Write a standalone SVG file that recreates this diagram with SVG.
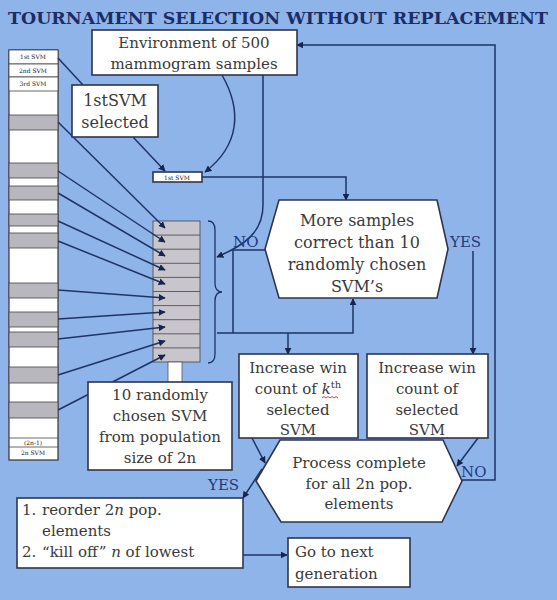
<svg xmlns="http://www.w3.org/2000/svg" width="557" height="600" viewBox="0 0 557 600">
<style>
.t{font-family:"DejaVu Serif","Liberation Serif",serif;font-size:15px;fill:#3a3a3a;text-anchor:middle}
.l{text-anchor:start}
.tiny{font-family:"DejaVu Serif",serif;font-size:6px;fill:#222;text-anchor:middle}
.lab{font-family:"DejaVu Serif","Liberation Serif",serif;font-size:15px;fill:#1f3a7a}
.box{fill:#fff;stroke:#2c3550;stroke-width:1.6}
.ln{fill:none;stroke:#1f3366;stroke-width:1.5}
.g{fill:#b9b7be;stroke:#444;stroke-width:0.8}
.bg{fill:#c9c5cc;stroke:#444;stroke-width:0.8}
</style>
<defs>
<marker id="a" viewBox="0 0 10 10" refX="9" refY="5" markerWidth="7" markerHeight="7" markerUnits="userSpaceOnUse" orient="auto">
<path d="M0,0 L10,5 L0,10 z" fill="#15254f"/>
</marker>
</defs>
<rect x="0" y="0" width="557" height="600" fill="#8fb4e9"/>
<text x="278" y="24" textLength="540" lengthAdjust="spacingAndGlyphs" style="font-family:'DejaVu Serif','Liberation Serif',serif;font-weight:bold;font-size:17px;fill:#1b2d66;text-anchor:middle">TOURNAMENT SELECTION WITHOUT REPLACEMENT</text>

<g id="population">
<rect x="9" y="50" width="49" height="410" fill="#fff" stroke="#333" stroke-width="1.2"/>
<rect x="9" y="50" width="49" height="14" fill="#fff" stroke="#444" stroke-width="0.8"/>
<rect x="9" y="64" width="49" height="13" fill="#fff" stroke="#444" stroke-width="0.8"/>
<rect x="9" y="77" width="49" height="14" fill="#fff" stroke="#444" stroke-width="0.8"/>
<text class="tiny" x="33" y="59">1st SVM</text>
<text class="tiny" x="33" y="73">2nd SVM</text>
<text class="tiny" x="33" y="86">3rd SVM</text>
<rect class="g" x="9" y="115" width="49" height="15"/>
<rect class="g" x="9" y="163" width="49" height="15"/>
<rect class="g" x="9" y="186" width="49" height="14"/>
<rect class="g" x="9" y="214" width="49" height="12"/>
<rect class="g" x="9" y="233" width="49" height="15"/>
<rect class="g" x="9" y="283" width="49" height="15"/>
<rect class="g" x="9" y="312" width="49" height="15"/>
<rect class="g" x="9" y="332" width="49" height="15"/>
<rect class="g" x="9" y="367" width="49" height="16"/>
<rect class="g" x="9" y="402" width="49" height="16"/>
<line x1="9" y1="438" x2="58" y2="438" stroke="#444" stroke-width="0.8"/>
<line x1="9" y1="447" x2="58" y2="447" stroke="#444" stroke-width="0.8"/>
<text class="tiny" x="33" y="445">(2n-1)</text>
<text class="tiny" x="33" y="455">2n SVM</text>
</g>

<g id="selected-block">
<rect class="bg" x="153" y="221" width="47" height="141" stroke-width="1.2"/>
<path d="M153,235.1H200M153,249.2H200M153,263.3H200M153,277.4H200M153,291.5H200M153,305.6H200M153,319.7H200M153,333.8H200M153,347.9H200" stroke="#444" stroke-width="0.8"/>
<path d="M208,221 Q215,221 215,230 L215,283 Q215,292 222,292 Q215,292 215,301 L215,354 Q215,363 208,363" fill="none" stroke="#1f3366" stroke-width="1.3"/>
<rect x="168" y="362" width="14" height="21" fill="#fff" stroke="#555" stroke-width="0.8"/>
</g>

<g id="connectors">
<path class="ln" d="M58,58 L83,85"/>
<path class="ln" d="M133,137 L165,171" marker-end="url(#a)"/>
<path class="ln" d="M222,75 C242,110 240,145 205,172" marker-end="url(#a)"/>
<path class="ln" d="M263,75 L263,205 C263,232 245,245 217,257" marker-end="url(#a)"/>
<path class="ln" d="M202,177 L346,177 L346,200" marker-end="url(#a)"/>
<path class="ln" d="M265,250 L233,250 L233,333"/>
<path class="ln" d="M217,333 L353,333 L353,299" marker-end="url(#a)"/>
<path class="ln" d="M288,333 L288,354" marker-end="url(#a)"/>
<path class="ln" d="M473,251 L473,354" marker-end="url(#a)"/>
<path class="ln" d="M252,438 L265,463" marker-end="url(#a)"/>
<path class="ln" d="M478,438 L457,466" marker-end="url(#a)"/>
<path class="ln" d="M462,480 L495,480 L495,45 L297,45" marker-end="url(#a)"/>
<path class="ln" d="M262,469 L243,498" marker-end="url(#a)"/>
<path class="ln" d="M243,555 L287,555" marker-end="url(#a)"/>
<path class="ln" d="M58,122 L165,228" marker-end="url(#a)"/>
<path class="ln" d="M58,171 L165,242" marker-end="url(#a)"/>
<path class="ln" d="M58,193 L165,256" marker-end="url(#a)"/>
<path class="ln" d="M58,221 L165,270" marker-end="url(#a)"/>
<path class="ln" d="M58,241 L165,284" marker-end="url(#a)"/>
<path class="ln" d="M58,290 L165,298" marker-end="url(#a)"/>
<path class="ln" d="M58,319 L165,312" marker-end="url(#a)"/>
<path class="ln" d="M58,339 L165,327" marker-end="url(#a)"/>
<path class="ln" d="M58,375 L165,341" marker-end="url(#a)"/>
<path class="ln" d="M58,410 L165,355" marker-end="url(#a)"/>
<text class="lab" x="233" y="247">NO</text>
<text class="lab" x="450" y="247">YES</text>
<text class="lab" x="461" y="477">NO</text>
<text class="lab" x="208" y="490">YES</text>
</g>

<g id="environment">
<rect class="box" x="92" y="30" width="205" height="45"/>
<text class="t" x="194" y="48">Environment of 500</text>
<text class="t" x="194" y="69">mammogram samples</text>
</g>

<g id="first-selected">
<rect class="box" x="72" y="85" width="86" height="52"/>
<text class="t" x="115" y="106" style="font-size:16px">1stSVM</text>
<text class="t" x="115" y="128" style="font-size:16px">selected</text>
</g>

<g id="first-svm">
<rect class="box" x="153" y="172" width="49" height="10" stroke-width="1.2"/>
<text class="tiny" x="177" y="180">1st SVM</text>
</g>

<g id="random-ten">
<rect class="box" x="88" y="382" width="144" height="88"/>
<text class="t" x="160" y="400">10 randomly</text>
<text class="t" x="160" y="421">chosen SVM</text>
<text class="t" x="160" y="442">from population</text>
<text class="t" x="160" y="463">size of 2n</text>
</g>

<g id="compare">
<path class="box" d="M265,249 L279,200 L437,200 L448,249 L437,298 L279,298 Z"/>
<text class="t" x="357" y="226" style="font-size:16px">More samples</text>
<text class="t" x="357" y="248" style="font-size:16px">correct than 10</text>
<text class="t" x="357" y="270" style="font-size:16px">randomly chosen</text>
<text class="t" x="357" y="292" style="font-size:16px">SVM’s</text>
</g>

<g id="increase-k">
<rect class="box" x="239" y="354" width="119" height="84"/>
<text class="t" x="298" y="373">Increase win</text>
<text class="t" x="298" y="394">count of <tspan font-style="italic">k</tspan><tspan font-size="10" dy="-6">th</tspan></text>
<path d="M322,398 l2,-1.5 l2,1.5 l2,-1.5 l2,1.5 l2,-1.5 l2,1.5 l2,-1.5 l2,1.5" fill="none" stroke="#d03030" stroke-width="0.9"/>
<text class="t" x="298" y="415">selected</text>
<text class="t" x="298" y="435">SVM</text>
</g>

<g id="increase-selected">
<rect class="box" x="367" y="354" width="121" height="84"/>
<text class="t" x="427" y="373">Increase win</text>
<text class="t" x="427" y="394">count of</text>
<text class="t" x="427" y="415">selected</text>
<text class="t" x="427" y="435">SVM</text>
</g>

<g id="process-complete">
<path class="box" d="M256,481 L280,440 L443,440 L462,481 L442,522 L281,522 Z"/>
<text class="t" x="359" y="468">Process complete</text>
<text class="t" x="359" y="489">for all 2n pop.</text>
<text class="t" x="359" y="509">elements</text>
</g>

<g id="reorder">
<rect class="box" x="17" y="498" width="226" height="70"/>
<text class="t l" x="22" y="515">1.</text>
<text class="t l" x="42" y="515">reorder 2<tspan font-style="italic">n</tspan> pop.</text>
<text class="t l" x="42" y="536">elements</text>
<text class="t l" x="22" y="557">2.</text>
<text class="t l" x="42" y="557">“kill off” <tspan font-style="italic">n</tspan> of lowest</text>
</g>

<g id="next-generation">
<rect class="box" x="288" y="538" width="122" height="49"/>
<text class="t l" x="295" y="557">Go to next</text>
<text class="t l" x="295" y="579">generation</text>
</g>
</svg>
